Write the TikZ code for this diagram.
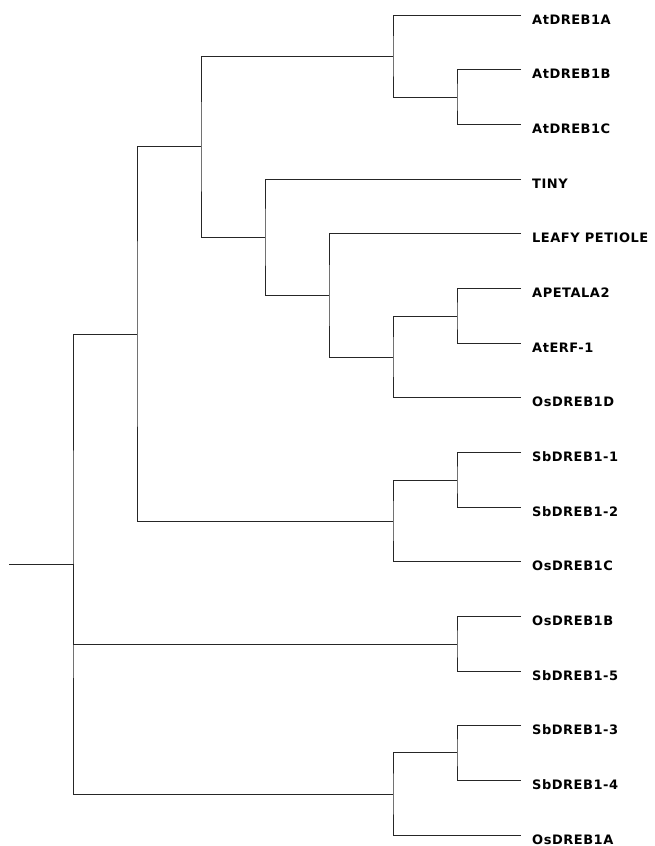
\documentclass[tikz,border=0pt]{standalone}
\usepackage{fontspec}
\setmainfont{DejaVu Sans}
\newfontfamily\leaffont{DejaVu Sans}[LetterSpace=4]
\usepackage{tikz}
\usetikzlibrary{positioning}
\definecolor{treegray}{HTML}{262626}

\begin{document}
\begin{tikzpicture}[
  x=1pt, y=-1pt,
  branch/.style={draw=treegray, line width=1pt},
  leaf/.style={anchor=base west, inner sep=0pt, font=\leaffont\bfseries\fontsize{13}{15}\selectfont},
]
  \useasboundingbox (0,0) rectangle (654,846);
  % leaves: tips and labels
  \foreach \lab [count=\i] in {AtDREB1A, AtDREB1B, AtDREB1C, TINY, LEAFY PETIOLE,
      APETALA2, AtERF-1, OsDREB1D, SbDREB1-1, SbDREB1-2, OsDREB1C,
      OsDREB1B, SbDREB1-5, SbDREB1-3, SbDREB1-4, OsDREB1A} {
    \coordinate (t\i) at (521, {15+54.67*(\i-1)});
    \node[leaf, xshift=11pt, yshift=-9pt] (l\i) at (t\i) {\lab};
  }
  % internal nodes
  \coordinate (nBC)    at (457, 97.5);
  \coordinate (nAt)    at (393, 56);
  \coordinate (nApErf) at (457, 316);
  \coordinate (nOsD)   at (393, 357);
  \coordinate (nLeafy) at (329, 295.5);
  \coordinate (nTiny)  at (265, 237);
  \coordinate (nUpper) at (201, 146.5);
  \coordinate (nSb12)  at (457, 480);
  \coordinate (nOsC)   at (393, 521);
  \coordinate (nTop)   at (137, 334);
  \coordinate (nOsB)   at (457, 644);
  \coordinate (nSb34)  at (457, 752.5);
  \coordinate (nOsA)   at (393, 794);
  \coordinate (root)   at (73, 564);
  \coordinate (stub)   at (9, 564);
  % branches
  \draw[branch] (t2) -| (nBC) |- (t3);
  \draw[branch] (t1) -| (nAt) |- (nBC);
  \draw[branch] (t6) -| (nApErf) |- (t7);
  \draw[branch] (nApErf) -| (nOsD) |- (t8);
  \draw[branch] (t5) -| (nLeafy) |- (nOsD);
  \draw[branch] (t4) -| (nTiny) |- (nLeafy);
  \draw[branch] (nAt) -| (nUpper) |- (nTiny);
  \draw[branch] (t9) -| (nSb12) |- (t10);
  \draw[branch] (nSb12) -| (nOsC) |- (t11);
  \draw[branch] (nUpper) -| (nTop) |- (nOsC);
  \draw[branch] (t12) -| (nOsB) |- (t13);
  \draw[branch] (t14) -| (nSb34) |- (t15);
  \draw[branch] (nSb34) -| (nOsA) |- (t16);
  \draw[branch] (nTop) -| (root) |- (nOsA);
  \draw[branch] (root) |- (nOsB);
  \draw[branch] (stub) -- (root);
\end{tikzpicture}
\end{document}
